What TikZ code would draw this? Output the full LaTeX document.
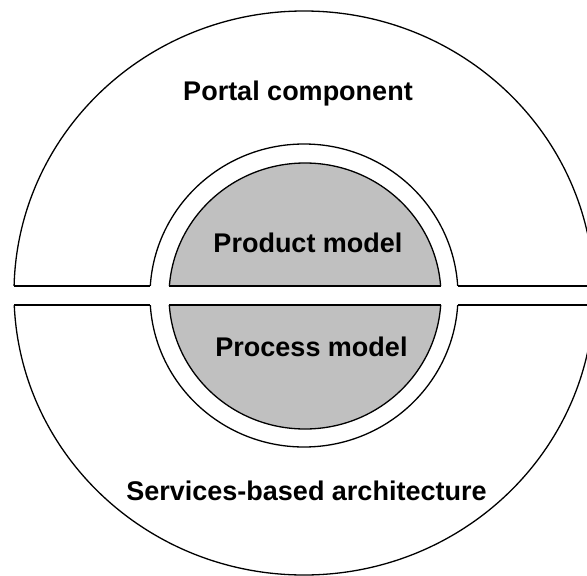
\documentclass[tikz,border=0pt]{standalone}
\usepackage{fontspec}
\setmainfont{Liberation Sans}
\definecolor{coregray}{HTML}{C0C0C0}
\begin{document}
\begin{tikzpicture}[x=1pt,y=-1pt,
  outline/.style={draw=black,line width=1.3pt},
  label/.style={font=\fontsize{27}{32}\selectfont\bfseries,anchor=base,inner sep=0pt}]
\useasboundingbox (0,0) rectangle (587,576);
\begin{scope}
\clip (0,0) rectangle (587,576);
% outer ring, middle ring and grey core
\draw[outline,fill=white] (304,293) ellipse [x radius=290, y radius=282];
\draw[outline] (304,295.5) ellipse [x radius=154, y radius=151.5];
\draw[outline,fill=coregray] (305,296) ellipse [x radius=136, y radius=133];
% horizontal gap that splits everything into two halves
\fill[white] (-10,286) rectangle (600,305);
% edges of the gap
\coordinate (ol1) at (14.1,286);   \coordinate (ml1) at (150.3,286);
\coordinate (mr1) at (457.7,286);  \coordinate (or1) at (593.9,286);
\coordinate (il1) at (169.4,286);  \coordinate (ir1) at (440.6,286);
\coordinate (ol2) at (14.3,305);   \coordinate (ml2) at (150.3,305);
\coordinate (mr2) at (457.7,305);  \coordinate (or2) at (593.7,305);
\coordinate (il2) at (169.3,305);  \coordinate (ir2) at (440.7,305);
\draw[outline] (ol1) -- (ml1) (mr1) -- (or1) (il1) -- (ir1);
\draw[outline] (ol2) -- (ml2) (mr2) -- (or2) (il2) -- (ir2);
\end{scope}
% labels
\node[label] (portal) at (298,100) {Portal component};
\node[label] (product) at (308,252) {Product model};
\node[label] (process) at (311.5,356) {Process model};
\node[label] (services) at (306.5,500.5) {Services-based architecture};
\end{tikzpicture}
\end{document}
